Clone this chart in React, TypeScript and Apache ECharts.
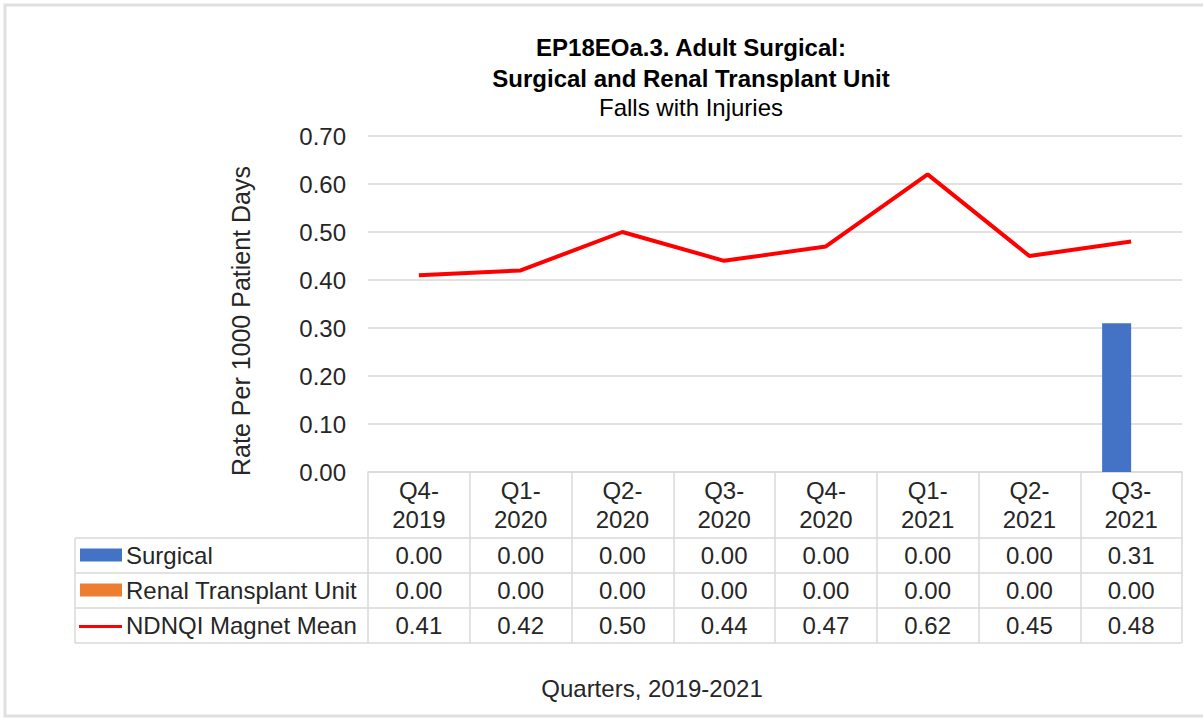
import React, { useEffect, useRef } from "react";
import * as echarts from "echarts";

const categories = ["Q4-\n2019", "Q1-\n2020", "Q2-\n2020", "Q3-\n2020", "Q4-\n2020", "Q1-\n2021", "Q2-\n2021", "Q3-\n2021"];
const surgical = [0.0, 0.0, 0.0, 0.0, 0.0, 0.0, 0.0, 0.31];
const renal = [0.0, 0.0, 0.0, 0.0, 0.0, 0.0, 0.0, 0.0];
const ndnqi = [0.41, 0.42, 0.5, 0.44, 0.47, 0.62, 0.45, 0.48];
const seriesNames = ["Surgical", "Renal Transplant Unit", "NDNQI Magnet Mean"];
const seriesColors = ["#4472c4", "#ed7d31", "#ff0000"];
const titleLines = ["EP18EOa.3. Adult Surgical:", "Surgical and Renal Transplant Unit"];
const subtitle = "Falls with Injuries";
const yAxisTitle = "Rate Per 1000 Patient Days";
const xAxisTitle = "Quarters, 2019-2021";

const FONT = "'Liberation Sans', Arial, sans-serif";
const GRID = "#d9d9d9";
const TXT = "#262626";

export default function App() {
  const ref = useRef<HTMLDivElement>(null);
  useEffect(() => {
    if (!ref.current) return;
    const chart = echarts.init(ref.current, null, { renderer: "svg" });
    const gridLeft = 368;
    const gridRight = 21;
    const gridTop = 136;
    const gridBottom = 247;
    chart.setOption({
      animation: false,
      backgroundColor: "#ffffff",
      textStyle: { fontFamily: FONT },
      grid: { left: gridLeft, right: gridRight, top: gridTop, bottom: gridBottom, containLabel: false },
      xAxis: {
        type: "category",
        data: categories,
        axisLine: { show: true, lineStyle: { color: GRID, width: 1.5 } },
        axisTick: { show: true, length: 171, alignWithLabel: false, lineStyle: { color: GRID, width: 1.5 } },
        axisLabel: { fontSize: 24, color: TXT, lineHeight: 29, margin: 4, fontFamily: FONT, interval: 0 },
        splitLine: { show: false },
      },
      yAxis: {
        type: "value",
        min: 0,
        max: 0.7,
        interval: 0.1,
        axisLine: { show: false },
        axisTick: { show: false },
        axisLabel: { fontSize: 24, color: TXT, margin: 22, fontFamily: FONT, formatter: (v: number) => v.toFixed(2) },
        splitLine: { show: true, lineStyle: { color: GRID, width: 1.5 } },
      },
      series: [
        { name: seriesNames[0], type: "bar", data: surgical, barWidth: 29, barGap: "0%", itemStyle: { color: seriesColors[0] } },
        { name: seriesNames[1], type: "bar", data: renal, barWidth: 29, barGap: "0%", itemStyle: { color: seriesColors[1] } },
        { name: seriesNames[2], type: "line", data: ndnqi, symbol: "none", lineStyle: { color: seriesColors[2], width: 4 }, itemStyle: { color: seriesColors[2] } },
      ],
    });

    // Build data table & texts using axis pixel conversions
    const centers = categories.map((_, i) => chart.convertToPixel({ xAxisIndex: 0 }, i) as number);
    const band = centers.length > 1 ? centers[1] - centers[0] : 100;
    const x1 = centers[centers.length - 1] + band / 2;
    const yAxis0 = chart.convertToPixel({ yAxisIndex: 0 }, 0) as number;
    const headerBottom = yAxis0 + 66;
    const rowH = 35;
    const legendLeft = 75;
    const rows = [surgical, renal, ndnqi];
    const g: any[] = [];
    // outer border
    g.push({ type: "rect", shape: { x: 5, y: 5, width: 1210, height: 711 }, style: { fill: "none", stroke: "#e0e0e0", lineWidth: 3 }, silent: true });
    // horizontal lines
    for (let r = 0; r <= 3; r++) {
      const y = headerBottom + r * rowH;
      g.push({ type: "line", shape: { x1: legendLeft, y1: y, x2: x1, y2: y }, style: { stroke: GRID, lineWidth: 1.5 }, silent: true });
    }
    // left border of legend column
    g.push({ type: "line", shape: { x1: legendLeft, y1: headerBottom, x2: legendLeft, y2: headerBottom + 3 * rowH }, style: { stroke: GRID, lineWidth: 1.5 }, silent: true });
    // row contents
    rows.forEach((vals, r) => {
      const cy = headerBottom + r * rowH + rowH / 2;
      if (r < 2) {
        g.push({ type: "rect", shape: { x: 80, y: cy - 7, width: 42, height: 13 }, style: { fill: seriesColors[r] }, silent: true });
      } else {
        g.push({ type: "line", shape: { x1: 79, y1: cy + 1, x2: 122, y2: cy + 1 }, style: { stroke: seriesColors[r], lineWidth: 3 }, silent: true });
      }
      g.push({ type: "text", x: 126, y: cy, style: { text: seriesNames[r], font: `24px ${FONT}`, fill: TXT, textAlign: "left", textVerticalAlign: "middle" }, silent: true });
      vals.forEach((v, i) => {
        g.push({ type: "text", x: centers[i], y: cy, style: { text: v.toFixed(2), font: `24px ${FONT}`, fill: TXT, textAlign: "center", textVerticalAlign: "middle" }, silent: true });
      });
    });
    // titles
    g.push({ type: "text", x: 691, y: 47, style: { text: titleLines[0], font: `bold 24px ${FONT}`, fill: "#000", textAlign: "center", textVerticalAlign: "middle" }, silent: true });
    g.push({ type: "text", x: 691, y: 78, style: { text: titleLines[1], font: `bold 24px ${FONT}`, fill: "#000", textAlign: "center", textVerticalAlign: "middle" }, silent: true });
    g.push({ type: "text", x: 691, y: 107, style: { text: subtitle, font: `24px ${FONT}`, fill: "#000", textAlign: "center", textVerticalAlign: "middle" }, silent: true });
    // axis titles
    g.push({ type: "text", x: 241, y: 321, rotation: Math.PI / 2, style: { text: yAxisTitle, font: `25px ${FONT}`, fill: TXT, textAlign: "center", textVerticalAlign: "middle" }, silent: true });
    g.push({ type: "text", x: 652, y: 688, style: { text: xAxisTitle, font: `24px ${FONT}`, fill: TXT, textAlign: "center", textVerticalAlign: "middle" }, silent: true });

    chart.setOption({ graphic: g });
    return () => chart.dispose();
  }, []);
  return <div ref={ref} style={{ position: "fixed", left: 0, top: 0, width: 1203, height: 719 }} />;
}
